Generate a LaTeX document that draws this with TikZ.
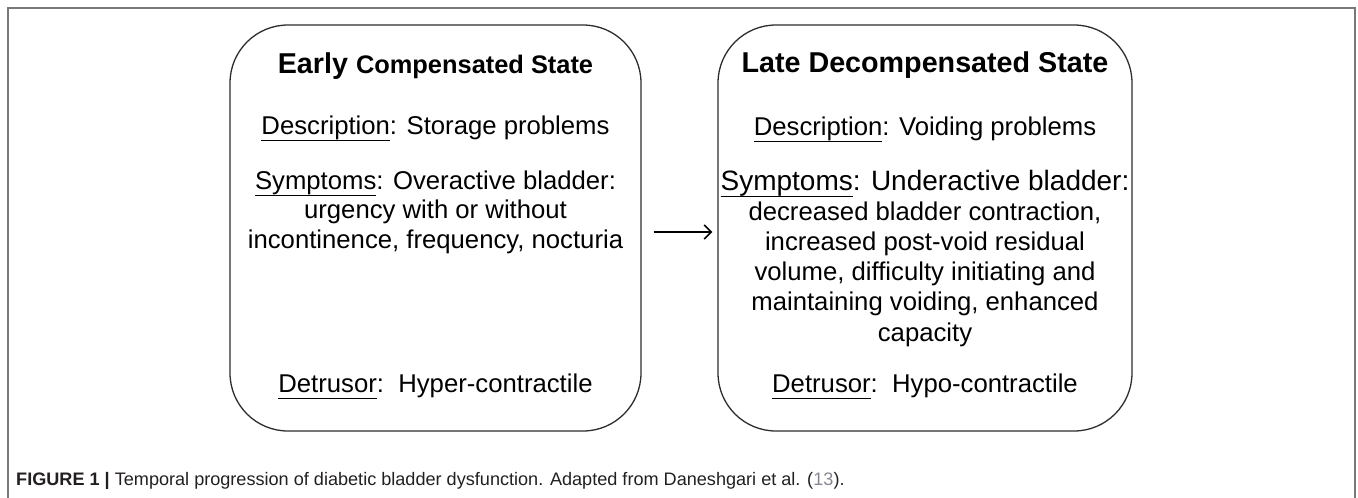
\documentclass[tikz,border=0pt]{standalone}
\usepackage{fontspec}
\setmainfont{Liberation Sans}
\usetikzlibrary{arrows.meta,positioning}

\definecolor{framegray}{RGB}{120,120,120}
\definecolor{boxline}{RGB}{45,45,45}
\definecolor{captext}{RGB}{35,31,32}
\definecolor{capref}{RGB}{135,135,145}

% underline at a fixed depth below the baseline
\newcommand{\undl}[1]{\setbox0\hbox{#1}\rlap{\rule[-7pt]{\wd0}{1.4pt}}\box0}

\tikzset{
  state/.style={draw=boxline, line width=1.3pt, rounded corners=58pt, minimum width=411pt, minimum height=406pt, inner sep=0pt},
  head/.style={anchor=base, inner sep=0pt, font=\bfseries\fontsize{28.7}{32}\selectfont},
  body/.style={anchor=base, inner sep=0pt, align=center, font=\fontsize{25.7}{29.5}\selectfont},
}

\begin{document}
\begin{tikzpicture}[x=1pt,y=1pt]
	\useasboundingbox (0,0) rectangle (1358,-498);
	% figure frame, open at the bottom
	\draw[framegray, line width=1.5pt] (8,-498) -- (8,-8) -- (1355,-8) -- (1355,-498);

	\node[state] (early) at (435.5,-228) {};
	\node[state, minimum width=414pt] (late) at (925,-228) {};

	% multi-line nodes sit on the baseline of their last line
	\node[head] (earlyhead) at (435.5,-73) {Early {\fontsize{25.4}{30}\selectfont Compensated State}};
	\node[body] (earlydesc) at (435.5,-134) {\undl{Description}: Storage problems};
	\node[body] (earlysymp) at (435.5,-248) {\undl{Symptoms}: Overactive bladder:\\ urgency with or without\\ incontinence, frequency, nocturia};
	\node[body] (earlydet) at (435.5,-392) {\undl{Detrusor}:\ \ Hyper-contractile};

	\node[head] (latehead) at (925,-72) {Late Decompensated State};
	\node[body] (latedesc) at (925,-135) {\undl{Description}: Voiding problems};
	\node[body, font=\fontsize{25.7}{30.2}\selectfont] (latesymp) at (925,-341) {{\fontsize{28}{30}\selectfont\undl{Symptoms}: Underactive bladder:}\\ decreased bladder contraction,\\ increased post-void residual\\ volume, difficulty initiating and\\ maintaining voiding, enhanced\\ capacity};
	\node[body] (latedet) at (925,-392) {\undl{Detrusor}:\ \ Hypo-contractile};

	\draw[-{Straight Barb[length=7pt,width=14pt]}, line width=1.6pt, shorten <=12pt, shorten >=5pt] ([yshift=-4pt]early.east) -- ([yshift=-4pt]late.west);

	\node[anchor=base west, inner sep=0pt, text=captext, font=\fontsize{18.1}{20}\selectfont] (caption) at (16,-485) {\textbf{FIGURE 1 |} Temporal progression of diabetic bladder dysfunction. Adapted from Daneshgari et al. (\textcolor{capref}{13}).};
\end{tikzpicture}
\end{document}
